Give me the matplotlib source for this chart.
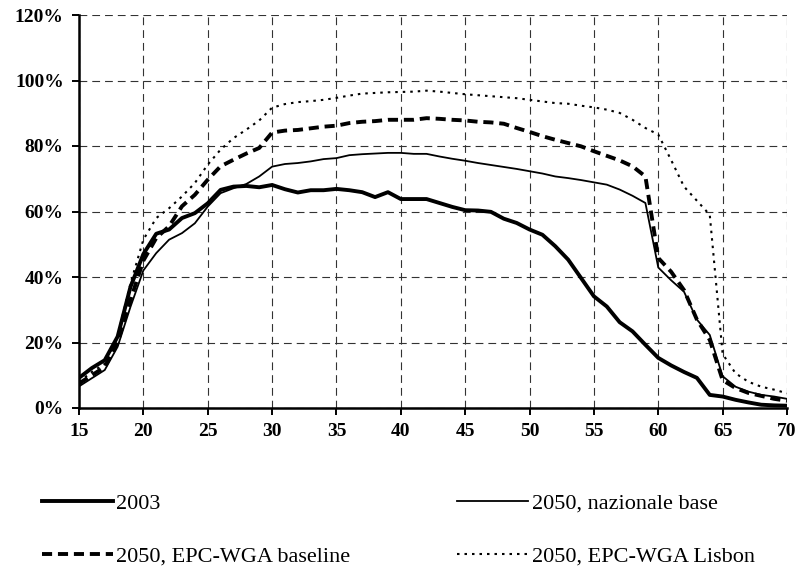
import matplotlib
matplotlib.use("Agg")
import matplotlib.pyplot as plt
from matplotlib.ticker import FuncFormatter

plt.rcParams['font.family'] = ['Liberation Serif', 'DejaVu Serif']

# age classes 15..70
ages = list(range(15, 71))

# participation rates (%)
rate_2003 = [9.2, 12.2, 14.6, 21.8, 37.0, 47.0, 53.2, 54.5, 58.0, 59.5,
             62.5, 66.6, 67.6, 67.8, 67.4, 68.1, 66.8, 65.8, 66.5, 66.5,
             66.9, 66.5, 65.9, 64.4, 65.9, 63.8, 63.8, 63.8, 62.6, 61.4,
             60.4, 60.3, 59.9, 57.8, 56.5, 54.5, 52.9, 49.4, 45.3, 39.7,
             34.1, 31.0, 26.2, 23.4, 19.3, 15.3, 13.0, 11.0, 9.2, 4.0,
             3.5, 2.5, 1.7, 1.0, 0.8, 0.7]
rate_naz = [6.6, 9.1, 11.6, 18.7, 30.9, 42.0, 47.3, 51.4, 53.4, 56.4,
            61.5, 65.6, 67.1, 68.4, 70.7, 73.7, 74.5, 74.8, 75.3, 76.0,
            76.3, 77.2, 77.5, 77.7, 77.9, 77.9, 77.6, 77.6, 76.8, 76.1,
            75.5, 74.8, 74.2, 73.6, 73.0, 72.3, 71.6, 70.7, 70.2, 69.6,
            68.9, 68.2, 66.7, 64.8, 62.6, 42.9, 39.0, 35.5, 27.0, 22.3,
            9.7, 6.5, 5.0, 4.0, 3.5, 2.8]
rate_epc_base = [7.5, 10.0, 12.5, 20.0, 33.0, 45.0, 51.9, 55.5, 61.6, 65.1,
                 69.7, 73.8, 75.8, 77.7, 79.4, 84.1, 84.7, 84.9, 85.4, 85.9,
                 86.2, 87.0, 87.4, 87.6, 88.0, 88.0, 88.0, 88.5, 88.3, 88.0,
                 87.8, 87.4, 87.2, 86.8, 85.5, 84.3, 83.0, 81.9, 80.9, 79.9,
                 78.4, 77.0, 75.6, 73.8, 70.7, 45.8, 41.6, 36.0, 27.0, 20.8,
                 8.5, 6.1, 4.6, 3.7, 2.8, 2.2]
rate_epc_lisbon = [8.0, 11.0, 13.5, 22.0, 38.0, 51.4, 58.0, 61.0, 64.6, 68.7,
                   74.3, 78.9, 82.4, 85.0, 87.8, 91.7, 92.8, 93.4, 93.7, 94.1,
                   94.7, 95.4, 96.0, 96.2, 96.4, 96.5, 96.6, 96.9, 96.6, 96.2,
                   95.8, 95.5, 95.2, 94.9, 94.6, 94.1, 93.6, 93.1, 92.9, 92.3,
                   91.8, 91.1, 90.1, 88.0, 85.5, 83.5, 75.7, 67.6, 63.3, 59.0,
                   16.5, 10.6, 8.0, 6.5, 5.6, 4.5]

fig = plt.figure(figsize=(7.99, 5.69), dpi=100)
ax = fig.add_axes([79/799, 1 - 408/569, (787 - 79)/799, (408 - 15)/569])

l1, = ax.plot(ages, rate_2003, color='black', lw=2.8, solid_joinstyle='round')
l2, = ax.plot(ages, rate_naz, color='black', lw=1.3)
l3, = ax.plot(ages, rate_epc_base, color='black', lw=2.8, linestyle='--', dashes=(2.6, 1.5))
l4, = ax.plot(ages, rate_epc_lisbon, color='black', lw=1.5, linestyle=':', dashes=(1.2, 2.4))

ax.set_xlim(15, 70)
ax.set_ylim(0, 120)
ax.set_xticks(range(15, 71, 5))
ax.set_yticks(range(0, 121, 20))
ax.yaxis.set_major_formatter(FuncFormatter(lambda v, p: f'{v:.0f}%'))

ax.grid(True, color='#333333', lw=0.8, linestyle='--', dashes=(7, 4.5))
ax.set_axisbelow(True)
for s in ['top', 'right']:
    ax.spines[s].set_visible(False)
for s in ['left', 'bottom']:
    ax.spines[s].set_linewidth(1.8)

ax.tick_params(direction='out', length=5, width=1.4, labelsize=14, pad=6)
for lab in ax.get_xticklabels() + ax.get_yticklabels():
    lab.set_fontweight('bold')

fig.legend([l1, l3, l2, l4],
           ['2003', '2050, EPC-WGA baseline', '2050, nazionale base', '2050, EPC-WGA Lisbon'],
           ncol=2, loc='upper left', bbox_to_anchor=(42/799, 1 - 493/569),
           frameon=False, fontsize=16, handlelength=3.2, handletextpad=0.15,
           labelspacing=1.45, columnspacing=4.8, borderpad=0, borderaxespad=0)

fig.savefig('out.png', dpi=100)
